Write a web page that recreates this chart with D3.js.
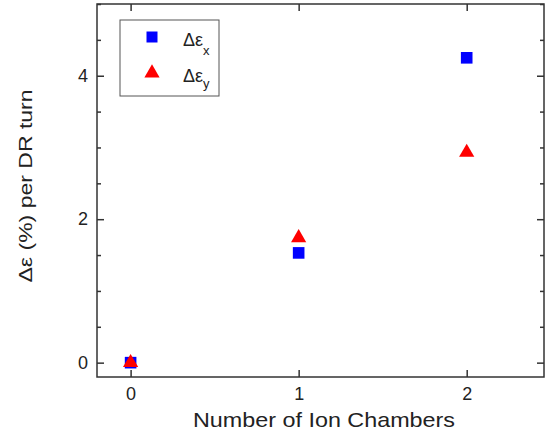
<!DOCTYPE html>
<html>
<head>
<meta charset="utf-8">
<script src="https://cdn.jsdelivr.net/npm/d3@7"></script>
<style>
  body { margin: 0; background: #fff; }
  text { font-family: "Liberation Sans", Arial, sans-serif; fill: #222; }
</style>
</head>
<body>
<div id="chart-area"></div>
<script>
let width = 546,
    height = 434;

// data
const chambers = [0, 1, 2];
const dEx = [0.0, 1.53, 4.25];
const dEy = [0.0, 1.74, 2.93];
const xTicks = [0, 1, 2];
const yTicks = [0, 2, 4];

const svg = d3.select("#chart-area")
  .append("svg")
  .attr("width", width)
  .attr("height", height);

const plot = {left: 97, right: 544, top: 4, bottom: 377};

let x = d3.scaleLinear()
  .domain([-0.2, 2.46])
  .range([plot.left, plot.right]);
let y = d3.scaleLinear()
  .domain([-0.2, 5.0])
  .range([plot.bottom, plot.top]);

const axisColor = "#333";
const tickFont = "Liberation Sans, Arial, sans-serif";

// frame
svg.append("rect")
  .attr("x", plot.left)
  .attr("y", plot.top)
  .attr("width", plot.right - plot.left)
  .attr("height", plot.bottom - plot.top)
  .attr("fill", "none")
  .attr("stroke", axisColor)
  .attr("stroke-width", 1.5);

// bottom axis
svg.append("g")
  .attr("transform", `translate(0,${plot.bottom})`)
  .call(d3.axisBottom(x).tickValues(xTicks).tickSize(-7).tickPadding(10).tickFormat(d3.format("d")))
  .call(g => g.select(".domain").remove())
  .call(g => g.selectAll(".tick line").attr("stroke", axisColor).attr("stroke-width", 1.5))
  .call(g => g.selectAll(".tick text").attr("font-size", 18).attr("font-family", tickFont).attr("fill", "#222"));

// top axis ticks
svg.append("g")
  .attr("transform", `translate(0,${plot.top})`)
  .call(d3.axisTop(x).tickValues(xTicks).tickSize(-7).tickFormat(""))
  .call(g => g.select(".domain").remove())
  .call(g => g.selectAll(".tick line").attr("stroke", axisColor).attr("stroke-width", 1.5));

// left axis: major + minor
const minorY = d3.range(0, 5.01, 0.5).filter(v => v % 2 !== 0);
svg.append("g")
  .attr("transform", `translate(${plot.left},0)`)
  .call(d3.axisLeft(y).tickValues(minorY).tickSize(-4).tickFormat(""))
  .call(g => g.select(".domain").remove())
  .call(g => g.selectAll(".tick line").attr("stroke", axisColor).attr("stroke-width", 1.5));
svg.append("g")
  .attr("transform", `translate(${plot.left},0)`)
  .call(d3.axisLeft(y).tickValues(yTicks).tickSize(-7).tickPadding(9).tickFormat(d3.format("d")))
  .call(g => g.select(".domain").remove())
  .call(g => g.selectAll(".tick line").attr("stroke", axisColor).attr("stroke-width", 1.5))
  .call(g => g.selectAll(".tick text").attr("font-size", 18).attr("font-family", tickFont).attr("fill", "#222"));

// right axis ticks
svg.append("g")
  .attr("transform", `translate(${plot.right},0)`)
  .call(d3.axisRight(y).tickValues(minorY).tickSize(-4).tickFormat(""))
  .call(g => g.select(".domain").remove())
  .call(g => g.selectAll(".tick line").attr("stroke", axisColor).attr("stroke-width", 1.5));
svg.append("g")
  .attr("transform", `translate(${plot.right},0)`)
  .call(d3.axisRight(y).tickValues(yTicks).tickSize(-7).tickFormat(""))
  .call(g => g.select(".domain").remove())
  .call(g => g.selectAll(".tick line").attr("stroke", axisColor).attr("stroke-width", 1.5));

// axis titles
svg.append("text")
  .attr("x", 324)
  .attr("y", 427)
  .attr("text-anchor", "middle")
  .attr("font-size", 21)
  .attr("textLength", 262)
  .attr("lengthAdjust", "spacingAndGlyphs")
  .text("Number of Ion Chambers");

svg.append("text")
  .attr("transform", "translate(32,186) rotate(-90)")
  .attr("text-anchor", "middle")
  .attr("font-size", 19)
  .attr("textLength", 193)
  .attr("lengthAdjust", "spacingAndGlyphs")
  .text("Δε (%) per DR turn");

// symbols
const sq = d3.symbol().type(d3.symbolSquare).size(135);
const tri = d3.symbol().type(d3.symbolTriangle).size(100);
const sqLeg = d3.symbol().type(d3.symbolSquare).size(121);

svg.append("g").selectAll("path")
  .data(chambers)
  .join("path")
  .attr("d", sq)
  .attr("transform", (d, i) => `translate(${x(d)},${y(dEx[i])})`)
  .attr("fill", "#0000ff");

svg.append("g").selectAll("path")
  .data(chambers)
  .join("path")
  .attr("d", tri)
  .attr("transform", (d, i) => `translate(${x(d)},${y(dEy[i])})`)
  .attr("fill", "#ff0000");

// legend
const lg = svg.append("g");
lg.append("rect")
  .attr("x", 120).attr("y", 20)
  .attr("width", 99).attr("height", 76)
  .attr("fill", "#fff")
  .attr("stroke", "#555")
  .attr("stroke-width", 1);
lg.append("path").attr("d", sqLeg).attr("transform", "translate(152,37)").attr("fill", "#0000ff");
lg.append("path").attr("d", tri).attr("transform", "translate(152,73)").attr("fill", "#ff0000");

const lx = lg.append("text").attr("x", 183).attr("y", 46).attr("font-size", 18);
lx.append("tspan").text("Δε");
lx.append("tspan").attr("font-size", 13).attr("dy", 9).text("x");
const ly = lg.append("text").attr("x", 183).attr("y", 82).attr("font-size", 18);
ly.append("tspan").text("Δε");
ly.append("tspan").attr("font-size", 13).attr("dy", 6).text("y");
</script>
</body>
</html>
